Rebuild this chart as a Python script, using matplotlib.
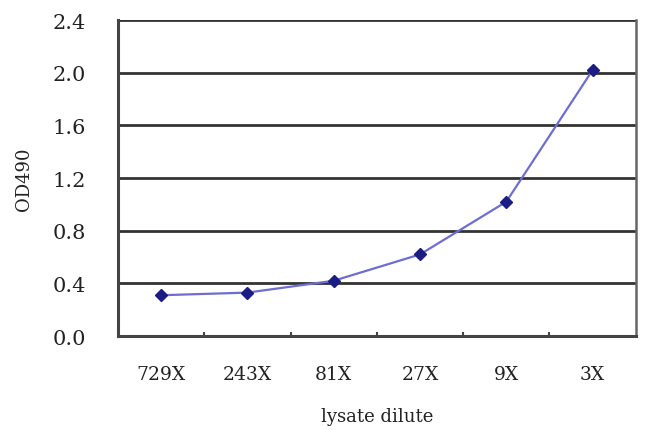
import matplotlib.pyplot as plt

dilutions = ["729X", "243X", "81X", "27X", "9X", "3X"]
od490 = [0.31, 0.33, 0.42, 0.62, 1.02, 2.02]
y_ticks = [0.0, 0.4, 0.8, 1.2, 1.6, 2.0, 2.4]


def main():
    plt.rcParams["font.family"] = ["DejaVu Serif"]

    fig = plt.figure(figsize=(6.5, 4.31), dpi=100)
    ax = fig.add_axes([0.1815, 0.218, 0.7965, 0.733])

    x = list(range(len(dilutions)))
    ax.plot(x, od490, color="#6e6ed2", linewidth=1.6, marker="D",
            markersize=6.5, markerfacecolor="#1c1c85", markeredgecolor="#1c1c85",
            zorder=3)

    ax.set_ylim(0, 2.4)
    ax.set_xlim(-0.5, len(dilutions) - 0.5)
    ax.set_yticks(y_ticks)
    ax.set_yticklabels([f"{v:.1f}" for v in y_ticks], fontsize=15, color="#222222")
    ax.set_xticks(x)
    ax.set_xticklabels(dilutions, fontsize=13.5, color="#222222")
    ax.set_xticks([i + 0.5 for i in x[:-1]], minor=True)

    for v in y_ticks:
        ax.axhline(v, color="#333333", linewidth=2, zorder=1)

    for side in ["left", "bottom"]:
        ax.spines[side].set_color("#444444")
        ax.spines[side].set_linewidth(2.2)
    ax.spines["right"].set_color("#666666")
    ax.spines["right"].set_linewidth(1.8)
    ax.spines["top"].set_visible(False)

    ax.tick_params(axis="y", length=0, pad=23)
    ax.tick_params(axis="x", which="major", length=0, pad=21)
    ax.tick_params(axis="x", which="minor", length=3, width=1.5,
                   direction="in", color="#444444")

    ax.set_ylabel("OD490", fontsize=13, labelpad=14, color="#222222")
    ax.set_xlabel("lysate dilute", fontsize=13, labelpad=17, color="#222222")

    fig.savefig("out.png", dpi=100)


if __name__ == "__main__":
    main()
